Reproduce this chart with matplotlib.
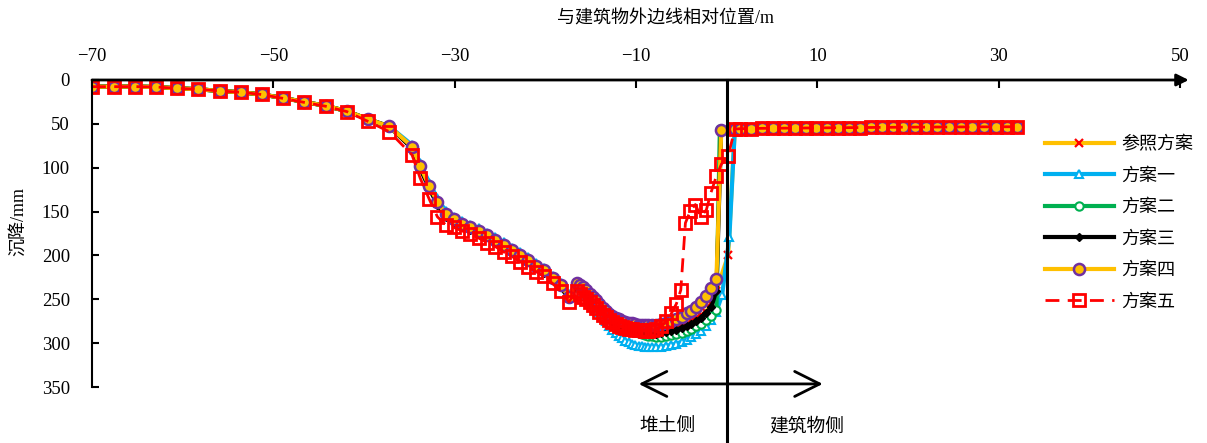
import matplotlib.pyplot as plt

plt.rcParams['font.family'] = ['Liberation Serif', 'Noto Sans CJK SC']
plt.rcParams['axes.unicode_minus'] = True

# ---- data ----
labels = ['参照方案', '方案一', '方案二', '方案三', '方案四', '方案五']

x_left = [-70.0, -67.6, -65.3, -62.9, -60.6, -58.3, -55.9, -53.6, -51.3, -48.9,
          -46.6, -44.2, -41.9, -39.6, -37.2]
y_left = [7.6, 7.6, 7.5, 8.0, 9.5, 10.5, 12.5, 14.0, 16.5, 20.5, 25.0, 29.5, 35.5, 44.5, 53.0]
y_left_5 = [7.6, 7.6, 7.5, 8.0, 9.5, 10.5, 12.5, 14.0, 16.5, 21.0, 25.5, 30.0, 36.0, 47.0, 59.0]

x_mid = [-34.7, -33.8, -32.8, -31.9, -31.0, -30.1, -29.2, -28.3, -27.3, -26.4,
         -25.5, -24.6, -23.7, -22.8, -21.9, -21.0, -20.1, -19.2, -18.3, -17.4]
y_mid_0 = [77, 99, 122, 140, 153.5, 159.5, 164.5, 168.5, 172.5, 177.5, 182.5, 188.5, 194.5, 200, 205.5, 212, 218, 226.5, 235, 247]
y_mid_1 = [74, 95, 117, 135, 149, 156, 161, 165, 169, 174, 179, 185, 191, 196.5, 202, 209, 214, 223, 231, 244]
y_mid_2 = [77, 99, 122, 140, 154, 160, 165, 169, 173, 178, 183, 189, 195, 200.5, 206, 213, 218, 227, 235, 248]
y_mid_3 = [78, 101, 124, 142, 156, 161.5, 166.5, 170.5, 174.5, 179.5, 184.5, 190.5, 196.5, 202, 207.5, 214, 219.5, 228, 236.5, 249]
y_mid_4 = [76, 98, 121, 139, 153, 159, 164, 168, 172, 177, 182, 188, 194, 199.5, 205, 212, 217, 226, 234, 247]
y_mid_5 = [85.5, 112, 136, 156, 165, 168, 172, 175.5, 180.5, 185.5, 190, 196, 201, 207, 213, 218.5, 224, 232, 241, 253]

x_trough = [-16.56, -16.2, -15.84, -15.48, -15.12, -14.76, -14.4, -14.04, -13.68, -13.32,
            -12.96, -12.6, -12.24, -11.88, -11.52, -11.16, -10.8, -10.44, -10.08, -9.72,
            -9.36, -9.0, -8.64, -8.29, -7.74, -7.19, -6.64, -6.09, -5.54, -4.98,
            -4.43, -3.88, -3.33, -2.78, -2.23, -1.68, -1.13]
y_tr_0 = [234, 237, 240, 243.5, 247.5, 251.5, 255.5, 259.5, 263.5, 267, 270.5, 273.5, 276, 278.5,
          280.5, 282.5, 284, 285.5, 286.5, 287.5, 288.3, 289, 289.5,
          290, 289.5, 288.5, 287, 285.5, 283.5, 281, 278, 275, 271.5, 268, 264, 254, 240]
y_tr_1 = [233, 237, 241, 245.5, 250, 255, 260, 265, 270, 275, 280, 284.5, 288, 291.5, 294.5, 297,
          299, 300.5, 302, 303, 303.8, 304.3, 304.5,
          304.5, 304.5, 304, 303, 302, 300.5, 298.5, 296, 293, 290, 286, 281, 274, 264]
y_tr_2 = [234, 237, 240, 243.5, 247.5, 251.5, 255.5, 259.5, 263.5, 267, 270.5, 273.5, 276, 278.5,
          280.5, 282.5, 284.5, 286, 287.5, 288.8, 290, 291, 291.5,
          292, 292.5, 292.5, 292, 291, 289.5, 288, 286, 283.5, 281, 278, 274, 268.5, 262]
y_tr_3 = [235, 238, 241, 244.5, 248.5, 252.5, 256.5, 260.5, 264.5, 268, 271.5, 274.5, 277, 279.5,
          281.5, 283.5, 285, 286.3, 287.3, 288.2, 289, 289.6, 290,
          290, 289.5, 288.5, 287.5, 286, 284.5, 282.5, 280.5, 278, 275, 271, 265.5, 258.5, 240]
y_tr_4 = [231, 234, 236, 239, 243.5, 247.5, 251, 255, 259.5, 263, 267, 269.5, 271, 273, 274.5,
          275.6, 276.7, 277.5, 278.2, 279, 279.4, 279.8, 279.8,
          279.8, 279, 278.2, 276.7, 274.8, 272.5, 270, 266, 263, 258.5, 252.8, 246, 237.6, 227]
y_tr_5 = [241, 244, 247, 250, 253.5, 257, 260.5, 264, 267.5, 270.5, 273.5, 276, 278, 280, 281.5,
          282.5, 283.5, 284.2, 284.8, 285.2, 285.5, 285.6, 285.6,
          285, 284, 281, 275, 266, 255]

# points near the building edge (x = 0), per scheme
x_tail_0, y_tail_0 = [0.16], [200]
x_tail_1, y_tail_1 = [-0.5, 0.3], [245, 179]
x_tail_2, y_tail_2 = [-0.75], [55.5]
x_tail_3, y_tail_3 = [-0.6], [55.5]
x_tail_4, y_tail_4 = [-0.6], [56.5]
x_tail_5 = [-5.06, -4.55, -4.0, -3.45, -2.85, -2.24, -1.75, -1.13, -0.58, 0.15]
y_tail_5 = [239.5, 163, 149, 142, 156, 148, 129, 109.5, 96, 87]

x_plat = [0.9, 1.5, 2.7, 3.9, 5.1, 6.3, 7.5, 8.7, 9.9, 11.1, 12.3, 13.5, 14.7, 15.9, 17.1, 18.3,
          19.5, 20.8, 22.0, 23.2, 24.5, 25.8, 27.1, 28.4, 29.7, 30.9, 32.0]
y_plat = [56, 55.5, 55.3, 55.1, 55, 54.9, 54.8, 54.7, 54.6, 54.5, 54.4, 54.3, 54.2, 54.1, 54,
          53.9, 53.8, 53.7, 53.7, 53.6, 53.6, 53.5, 53.5, 53.4, 53.4, 53.3, 53.3]

xticks = [-70, -50, -30, -10, 10, 30, 50]
yticks = [0, 50, 100, 150, 200, 250, 300, 350]

# ---- assemble series ----
xs = [x_left + x_mid + x_trough + x_tail_0 + x_plat,
      x_left + x_mid + x_trough + x_tail_1 + x_plat,
      x_left + x_mid + x_trough + x_tail_2 + x_plat,
      x_left + x_mid + x_trough + x_tail_3 + x_plat,
      x_left + x_mid + x_trough + x_tail_4 + x_plat,
      x_left + x_mid + x_trough[:29] + x_tail_5 + x_plat]
ys = [y_left + y_mid_0 + y_tr_0 + y_tail_0 + y_plat,
      y_left + y_mid_1 + y_tr_1 + y_tail_1 + y_plat,
      y_left + y_mid_2 + y_tr_2 + y_tail_2 + y_plat,
      y_left + y_mid_3 + y_tr_3 + y_tail_3 + y_plat,
      y_left + y_mid_4 + y_tr_4 + y_tail_4 + y_plat,
      y_left_5 + y_mid_5 + y_tr_5 + y_tail_5 + y_plat]

styles = [
    dict(color='#FFC000', lw=3, marker='x', mec='#FF0000', mfc='#FF0000', ms=6, mew=1.6),
    dict(color='#00B0F0', lw=3, marker='^', mec='#00B0F0', mfc='white', ms=6, mew=1.5),
    dict(color='#00B050', lw=3, marker='o', mec='#00B050', mfc='white', ms=6, mew=1.5),
    dict(color='black', lw=3, marker='D', mec='black', mfc='black', ms=4),
    dict(color='#FFC000', lw=3, marker='o', mec='#7030A0', mfc='#FFC000', ms=8, mew=1.8),
    dict(color='#FF0000', lw=2, marker='s', mec='#FF0000', mfc='none', ms=8, mew=2, dashes=(5, 3)),
]

fig = plt.figure(figsize=(12.07, 4.43), dpi=100)
ax = fig.add_axes([92 / 1207, 1 - 387 / 443, (1180 - 92) / 1207, 307 / 443])

for x, y, lab, st in zip(xs, ys, labels, styles):
    ax.plot(x, y, label=lab, **st)

ax.set_xlim(-70, 50)
ax.set_ylim(350, 0)
ax.set_xticks(xticks)
ax.set_yticks(yticks)
ax.xaxis.tick_top()
ax.tick_params(axis='x', direction='in', length=6, width=1.5, pad=11, labelsize=13.5)
ax.tick_params(axis='y', direction='in', length=5, width=1.5, pad=16, labelsize=13.5)
for side in ['top', 'right', 'bottom']:
    ax.spines[side].set_visible(False)
ax.spines['left'].set_linewidth(1.5)

# top axis as an arrow
ax.annotate('', xy=(1.008, 1), xytext=(0, 1), xycoords='axes fraction',
            arrowprops=dict(arrowstyle='-|>', lw=2, color='black', mutation_scale=18,
                            shrinkA=0, shrinkB=0))

# building edge line and side markers
ax.plot([0, 0], [0, 415], color='black', lw=2.2, clip_on=False, zorder=10)
ax.annotate('', xy=(-9.7, 346.5), xytext=(10.6, 346.5), annotation_clip=False,
            arrowprops=dict(arrowstyle='<->, head_length=0.9, head_width=0.45', lw=2,
                            color='black', mutation_scale=20, shrinkA=0, shrinkB=0))
ax.text(-6.5, 395, '堆土侧', ha='center', va='center', fontsize=13.5, clip_on=False)
ax.text(8.8, 395, '建筑物侧', ha='center', va='center', fontsize=13.5, clip_on=False)

fig.text(666 / 1207, 1 - 19 / 443, '与建筑物外边线相对位置/m', ha='center', va='center', fontsize=13)
fig.text(18 / 1207, 1 - 222 / 443, '沉降/mm', ha='center', va='center', rotation=90, fontsize=13)

ax.legend(loc='upper left', bbox_to_anchor=(1045 / 1207, 1 - 136 / 443),
          bbox_transform=fig.transFigure, frameon=False, fontsize=13,
          handlelength=3.8, labelspacing=0.8, numpoints=1, handletextpad=0.4,
          borderpad=0, borderaxespad=0)

fig.savefig('out.png', dpi=100)
